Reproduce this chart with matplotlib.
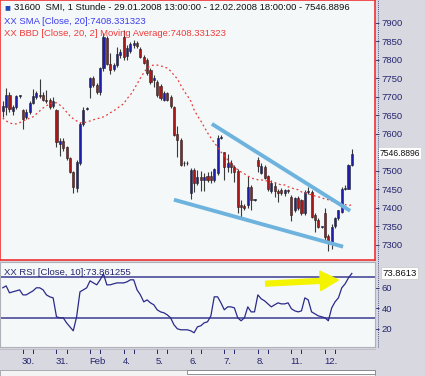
import matplotlib.pyplot as plt
from matplotlib.patches import Rectangle
from matplotlib.lines import Line2D
import matplotlib.transforms as mtransforms

plt.rcParams['font.family'] = ['Liberation Sans', 'DejaVu Sans']

# hourly SMI candles 29.01.2008 13:00 .. 12.02.2008
opens = [7662, 7672, 7705, 7662, 7672, 7702,
         7665, 7645, 7660, 7684, 7700, 7705, 7705, 7692, 7692, 7676,
         7665, 7572, 7580, 7565, 7535, 7497, 7455, 7520, 7628, 7668,
         7728, 7750, 7732, 7713, 7778, 7858, 7790, 7775, 7787, 7812,
         7862, 7810, 7825, 7840, 7846, 7830, 7808, 7800, 7773, 7745,
         7741, 7730, 7692, 7711, 7700, 7673, 7600, 7584, 7520, 7522,
         7440, 7503, 7468, 7483, 7475, 7485, 7487, 7476, 7495, 7590,
         7550, 7510, 7520, 7510, 7500, 7408, 7405, 7408, 7456, 7422,
         7530, 7495, 7510, 7485, 7445, 7460, 7445, 7448, 7440, 7448,
         7430, 7395, 7427, 7420, 7386, 7442, 7442, 7380, 7367, 7348,
         7386, 7325, 7308, 7350, 7372, 7390, 7452, 7452, 7515]
highs = [7690, 7724, 7712, 7678, 7706, 7706,
         7668, 7668, 7690, 7722, 7715, 7748, 7712, 7720, 7698, 7700,
         7668, 7588, 7590, 7568, 7538, 7500, 7530, 7632, 7672, 7674,
         7755, 7756, 7738, 7782, 7872, 7866, 7820, 7792, 7836, 7830,
         7880, 7840, 7848, 7855, 7850, 7835, 7812, 7805, 7778, 7760,
         7745, 7736, 7715, 7714, 7704, 7676, 7620, 7588, 7526, 7526,
         7508, 7508, 7503, 7500, 7495, 7497, 7500, 7508, 7598, 7597,
         7552, 7545, 7530, 7515, 7505, 7422, 7410, 7485, 7462, 7425,
         7538, 7520, 7515, 7490, 7475, 7470, 7452, 7455, 7452, 7452,
         7434, 7430, 7432, 7425, 7448, 7456, 7448, 7385, 7372, 7352,
         7400, 7330, 7355, 7375, 7395, 7456, 7462, 7518, 7558]
lows = [7645, 7650, 7660, 7652, 7668, 7698,
        7612, 7640, 7655, 7680, 7695, 7698, 7688, 7684, 7668, 7670,
        7565, 7540, 7555, 7530, 7495, 7440, 7443, 7515, 7620, 7664,
        7697, 7728, 7708, 7705, 7770, 7785, 7762, 7770, 7782, 7805,
        7800, 7800, 7818, 7832, 7832, 7805, 7788, 7760, 7735, 7728,
        7700, 7692, 7688, 7688, 7670, 7595, 7538, 7512, 7512, 7516,
        7425, 7443, 7462, 7445, 7445, 7470, 7468, 7470, 7490, 7585,
        7476, 7497, 7495, 7470, 7385, 7373, 7395, 7400, 7395, 7418,
        7498, 7492, 7478, 7445, 7440, 7430, 7415, 7435, 7432, 7440,
        7365, 7390, 7395, 7380, 7380, 7438, 7372, 7335, 7345, 7345,
        7313, 7283, 7290, 7345, 7368, 7385, 7448, 7450, 7512]
closes = [7675, 7705, 7668, 7672, 7702, 7704,
          7640, 7660, 7684, 7703, 7710, 7702, 7692, 7688, 7672, 7688,
          7578, 7582, 7562, 7535, 7497, 7457, 7524, 7628, 7665, 7670,
          7750, 7732, 7713, 7778, 7862, 7790, 7772, 7787, 7815, 7822,
          7808, 7832, 7842, 7846, 7838, 7808, 7792, 7765, 7741, 7750,
          7705, 7697, 7711, 7692, 7676, 7597, 7584, 7516, 7522, 7520,
          7503, 7467, 7483, 7475, 7483, 7475, 7476, 7505, 7590, 7592,
          7510, 7520, 7510, 7497, 7403, 7403, 7400, 7456, 7422, 7422,
          7512, 7512, 7482, 7450, 7468, 7445, 7440, 7440, 7448, 7446,
          7381, 7427, 7400, 7386, 7442, 7444, 7376, 7367, 7348, 7349,
          7320, 7310, 7348, 7372, 7393, 7452, 7455, 7515, 7546.8896]

# Bollinger middle band (20) as drawn
ma20 = [7643, 7635, 7630, 7627, 7627, 7630, 7635, 7638, 7643, 7646,
        7654, 7662, 7670, 7676, 7681, 7684, 7684, 7678, 7670, 7659,
        7649, 7641, 7635, 7630, 7630, 7632, 7635, 7638, 7641, 7643,
        7646, 7651, 7657, 7662, 7668, 7676, 7681, 7695, 7705, 7719,
        7735, 7751, 7765, 7778, 7784, 7786, 7786, 7784, 7781, 7778,
        7770, 7759, 7749, 7732, 7716, 7703, 7689, 7665, 7649, 7635,
        7619, 7603, 7589, 7576, 7565, 7551, 7540, 7530, 7519, 7511,
        7503, 7497, 7492, 7486, 7481, 7478, 7476, 7476, 7473, 7473,
        7470, 7468, 7465, 7462, 7462, 7457, 7454, 7451, 7449, 7443,
        7441, 7438, 7435, 7432, 7430, 7427, 7424, 7422, 7419, 7416,
        7414, 7411, 7409, 7406, 7408.33]

rsi10 = [59.8, 61.7, 54.9, 55.9, 56.8, 57.8, 52.9, 52.9, 54.9, 56.8,
         59.8, 59.8, 57.8, 52.9, 51.0, 50.0, 31.5, 30.5, 30.5, 25.6,
         21.7, 17.8, 31.5, 55.9, 57.8, 59.8, 66.6, 64.6, 62.7, 67.6,
         73.4, 62.7, 62.7, 63.7, 64.6, 64.6, 64.6, 65.6, 67.6, 67.6,
         57.8, 52.9, 46.1, 48.0, 45.1, 43.2, 38.3, 36.3, 35.4, 33.4,
         30.5, 23.7, 19.8, 18.8, 18.8, 18.8, 17.8, 15.9, 21.7, 22.7,
         25.6, 26.6, 32.4, 51.0, 51.0, 45.1, 38.3, 41.2, 41.2, 40.2,
         30.5, 27.6, 30.5, 41.2, 36.3, 36.3, 52.9, 49.0, 47.1, 44.1,
         41.2, 43.2, 45.1, 44.1, 44.1, 45.1, 39.3, 37.3, 36.3, 37.3,
         50.0, 48.0, 36.3, 34.4, 32.4, 31.5, 30.5, 27.6, 40.2, 46.1,
         50.0, 59.8, 63.7, 69.5, 73.86]

day_labels = ["30.", "31.", "Feb", "4.", "5.", "6.", "7.", "8.", "11.", "12."]
day_start = [6, 16, 26, 36, 46, 56, 66, 76, 86, 96]

price_ticks = [7300, 7350, 7400, 7450, 7500, 7600, 7650, 7700, 7750, 7800, 7850, 7900]
rsi_ticks = [20, 40, 60]
rsi_levels = [30, 70]

# hand drawn trend lines (bar index, price) and arrow on RSI (bar index, rsi)
upper_x, upper_y = [62.3, 103.5], [7627, 7392]
lower_x, lower_y = [51.0, 101.4], [7422, 7295]
arrow_x, arrow_y = [77.5, 100.8], [63.7, 67.6]

W, H = 425, 376
navy = '#25256e'
up_col, dn_col = '#1e1ea8', '#a81818'

fig = plt.figure(figsize=(W / 100, H / 100), dpi=100)
fig.patch.set_facecolor('#d8d8e0')

ax = fig.add_axes([0, 1 - 260 / H, 375 / W, 260 / H])
ax_r = fig.add_axes([0, 1 - 347 / H, 375 / W, 85 / H])

for a in (ax, ax_r):
    a.set_facecolor('#f5f8f8')
    a.set_xlim(-0.83, 110.9)
    a.set_xticks([])

# candles
n = len(closes)
xs = list(range(n))
for i in xs:
    o, h, l, c = opens[i], highs[i], lows[i], closes[i]
    col = up_col if c >= o else dn_col
    ax.vlines(i, l, h, color='#3a3a3a', lw=0.8, zorder=2)
    bot = min(o, c)
    hgt = max(abs(c - o), 2.5)
    ax.bar(i, hgt, width=0.62, bottom=bot, color=col, edgecolor='#222222',
           linewidth=0.4, zorder=3)

ax.plot(xs, ma20, color='#e83a3a', lw=0.9, ls=(0, (1.5, 2.2)), zorder=4)
ax.plot(upper_x, upper_y, color='#6db3de', lw=2.8, solid_capstyle='butt', zorder=5)
ax.plot(lower_x, lower_y, color='#6db3de', lw=2.8, solid_capstyle='butt', zorder=5)

ax.set_ylim(7259, 7962)
ax.yaxis.tick_right()
ax.set_yticks(price_ticks)
ax.tick_params(axis='y', direction='out', length=3, width=0.6, color=navy,
               labelcolor=navy, labelsize=6.8, pad=2)
for s in ax.spines.values():
    s.set_color('#ee3333')
    s.set_linewidth(1.2)

# last price box
trans = mtransforms.blended_transform_factory(ax.transAxes, ax.transData)
ax.text(1.013, closes[-1], '7546.8896', transform=trans, fontsize=6.2, color='#111111',
        va='center', ha='left', clip_on=False,
        bbox=dict(boxstyle='square,pad=0.12', fc='white', ec='none'))

# RSI panel
ax_r.plot(xs, rsi10, color='#2a2a8a', lw=0.9, zorder=3)
for lv in rsi_levels:
    ax_r.axhline(lv, color='#4a4a9a', lw=1.2, zorder=2)
ax_r.set_ylim(2, 85)
ax_r.yaxis.tick_right()
ax_r.set_yticks(rsi_ticks)
ax_r.tick_params(axis='y', direction='out', length=3, width=0.6, color=navy,
                 labelcolor=navy, labelsize=6.8, pad=2)
for s in ax_r.spines.values():
    s.set_color('#b0b0b8')
    s.set_linewidth(0.8)
ax_r.annotate('', xy=(arrow_x[1], arrow_y[1]), xytext=(arrow_x[0], arrow_y[0]),
              arrowprops=dict(arrowstyle='simple,head_length=1.3,head_width=1.4,tail_width=0.35',
                              fc='#f4f400', ec='#f4f400'), zorder=6)
trans_r = mtransforms.blended_transform_factory(ax_r.transAxes, ax_r.transData)
ax_r.text(1.02, rsi10[-1], '73.8613', transform=trans_r, fontsize=6.8, color='#111111',
          va='center', ha='left', clip_on=False,
          bbox=dict(boxstyle='square,pad=0.15', fc='white', ec='#c8c8c8', lw=0.5))
ax_r.text(0.01, 0.93, 'XX RSI [Close, 10]:73.861255', transform=ax_r.transAxes,
          fontsize=6.8, color=navy, va='top', ha='left')

# date axis
tb = mtransforms.blended_transform_factory(ax_r.transData, ax_r.transAxes)
for lab, d in zip(day_labels, day_start):
    for off in (0, 3):
        ax_r.add_line(Line2D([d + off, d + off], [-0.025, -0.075], transform=tb,
                             color=navy, lw=0.7, clip_on=False))
    ax_r.text(d - 0.3, -0.165, lab, transform=tb, fontsize=6.8, color=navy,
              ha='left', va='center', clip_on=False)

# dotted axis line and scroll bar
fig.add_artist(Line2D([377.5 / W, 377.5 / W], [1 - 347 / H, 1], color=navy,
                      lw=0.6, ls=(0, (1, 1.5))))
fig.add_artist(Line2D([0, 375 / W], [1 - 348.5 / H, 1 - 348.5 / H], color='#b8b8c0', lw=0.6))
fig.add_artist(Rectangle((0, 0), 375 / W, 6 / H, transform=fig.transFigure,
                         fc='#f4f4f4', ec='#a0a0a8', lw=0.6))
fig.add_artist(Rectangle((187 / W, 2.5 / H), 188 / W, 3.5 / H, transform=fig.transFigure,
                         fc='#ffffff', ec='#808088', lw=0.6))

# header
fig.text(4 / W, 1 - 7 / H, '\u25a0', fontsize=7, color='#2448b8', va='center', ha='left')
fig.text(14 / W, 1 - 7 / H,
         '31600  SMI, 1 Stunde - 29.01.2008 13:00:00 - 12.02.2008 18:00:00 - 7546.8896',
         fontsize=6.8, color='#111111', va='center', ha='left')
fig.text(4 / W, 1 - 21 / H, 'XX SMA [Close, 20]:7408.331323', fontsize=6.8,
         color='#3b3bf0', va='center', ha='left')
fig.text(4 / W, 1 - 33 / H, 'XX BBD [Close, 20, 2] Moving Average:7408.331323',
         fontsize=6.8, color='#f03b3b', va='center', ha='left')

fig.savefig('out.png', dpi=100, facecolor=fig.get_facecolor())
